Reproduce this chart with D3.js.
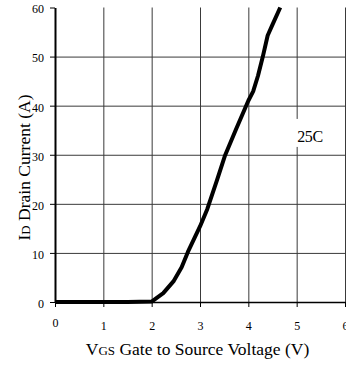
<!DOCTYPE html>
<html>
<head>
<meta charset="utf-8">
<script src="https://cdn.jsdelivr.net/npm/d3@7"></script>
<style>
  body { margin: 0; background: #fff; }
  text { font-family: "Liberation Serif", "Times New Roman", serif; fill: #000; }
</style>
</head>
<body>
<svg id="chart" width="346" height="365"></svg>
<script>
// transfer characteristic
const vgs = [0, 0.5, 1, 1.5, 2, 2.24, 2.45, 2.62, 2.75, 3.0, 3.15, 3.35, 3.52, 3.75, 4.0, 4.1, 4.2, 4.3, 4.4, 4.5, 4.66];
const idCurrent = [0, 0, 0, 0, 0.1, 1.8, 4.2, 7.1, 10.2, 15.4, 18.9, 24.8, 29.9, 35.3, 41, 42.9, 46.1, 50, 54.3, 56.5, 60];
const xTicks = [0, 1, 2, 3, 4, 5, 6];
const yTicks = [0, 10, 20, 30, 40, 50, 60];
const curveLabel = "25C";

const svg = d3.select("#chart");

const x = d3.scaleLinear().domain([0, 6]).range([55, 345]);
const y = d3.scaleLinear().domain([0, 60]).range([302, 7.5]);

// vertical grid (axis ticks stretched up)
const vGrid = svg.append("g")
  .attr("class", "vgrid")
  .attr("transform", "translate(0," + y(0) + ")")
  .call(d3.axisBottom(x).tickValues(xTicks.slice(1)).tickSize(-(y(0) - y(60))).tickFormat(""));
vGrid.select(".domain").remove();
vGrid.selectAll(".tick line").attr("stroke", "#3a3a3a").attr("stroke-width", 1);

// horizontal grid
const hGrid = svg.append("g")
  .attr("class", "hgrid")
  .attr("transform", "translate(" + x(0) + ",0)")
  .call(d3.axisLeft(y).tickValues(yTicks.slice(1, -1)).tickSize(-(x(6) - x(0))).tickFormat(""));
hGrid.select(".domain").remove();
hGrid.selectAll(".tick line").attr("stroke", "#3a3a3a").attr("stroke-width", 1);

// white patch behind the curve label
svg.append("rect")
  .attr("x", x(5) - 1)
  .attr("y", y(37.3))
  .attr("width", 31)
  .attr("height", 28)
  .attr("fill", "#fff");

// left axis
const yAxis = svg.append("g")
  .attr("transform", "translate(" + x(0) + ",0)")
  .call(d3.axisLeft(y).tickValues(yTicks).tickSize(5).tickSizeOuter(0).tickPadding(6).tickFormat(d3.format("d")));
yAxis.select(".domain").attr("stroke", "#000").attr("stroke-width", 2);
yAxis.selectAll(".tick line").attr("stroke", "#000");
yAxis.selectAll("text")
  .attr("font-size", 12)
  .attr("font-family", "Liberation Serif")
  .attr("dy", "0.45em");

// bottom axis
const xAxis = svg.append("g")
  .attr("transform", "translate(0," + y(0) + ")")
  .call(d3.axisBottom(x).tickValues(xTicks).tickSize(5).tickSizeOuter(0).tickPadding(14.5).tickFormat(d3.format("d")));
xAxis.select(".domain").attr("stroke", "#000").attr("stroke-width", 1.5);
xAxis.selectAll(".tick line").attr("stroke", "#000");
xAxis.selectAll("text")
  .attr("font-size", 12)
  .attr("font-family", "Liberation Serif")
  .attr("dy", (d) => (d === 0 ? "0.42em" : "0.71em"));

// curve
const pts = vgs.map((v, i) => [v, idCurrent[i]]);
svg.append("path")
  .datum(pts)
  .attr("fill", "none")
  .attr("stroke", "#000")
  .attr("stroke-width", 4)
  .attr("stroke-linejoin", "round")
  .attr("d", d3.line().x((d) => x(d[0])).y((d) => y(d[1])));

svg.append("text")
  .attr("x", x(5) + 0.5)
  .attr("y", 142)
  .attr("font-size", 16)
  .attr("letter-spacing", -0.3)
  .text(curveLabel);

// axis titles
const xt = svg.append("text")
  .attr("x", 197.5)
  .attr("y", 355)
  .attr("text-anchor", "middle")
  .attr("font-size", 17.5);
xt.append("tspan").text("V");
xt.append("tspan").attr("font-size", 13).text("GS");
xt.append("tspan").text(" Gate to Source Voltage (V)");

const yt = svg.append("text")
  .attr("transform", "translate(29.5,167.5) rotate(-90)")
  .attr("text-anchor", "middle")
  .attr("font-size", 17.5);
yt.append("tspan").text("I");
yt.append("tspan").attr("font-size", 13).text("D");
yt.append("tspan").text(" Drain Current (A)");
</script>
</body>
</html>
